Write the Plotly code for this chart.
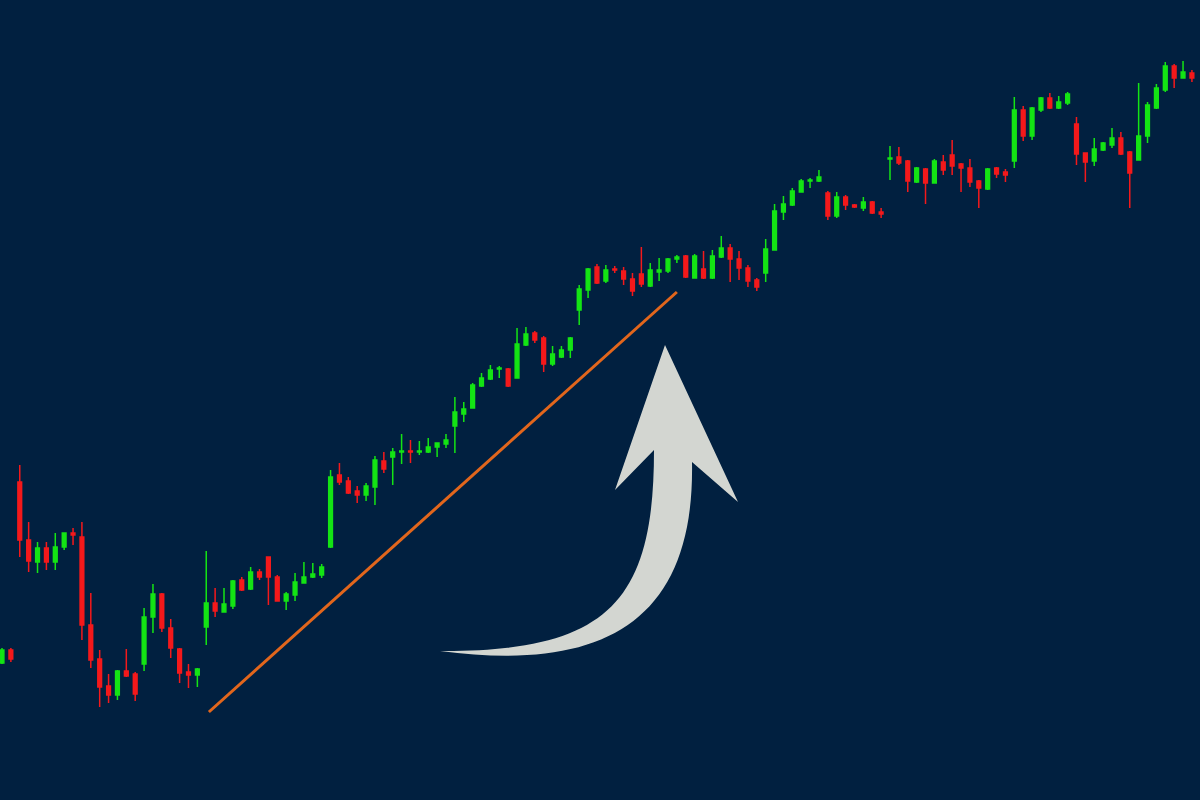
import plotly.graph_objects as go

# ---- data (price units) ----
opens = [137,150,318,260,238,252,238,253,267,263,
         175,141,114,105,129,126,136,183,206,172,
         151,128,125,173,197,188,194,220,211,228,
         243,223,199,205,217,223,225,253,325,319,
         309,305,313,339,343,348,349,348,348,353,
         356,374,386,392,414,421,431,431,422,455,
         467,462,436,443,450,490,510,533,519,531,
         529,521,526,514,528,529,541,544,522,531,
         522,543,552,541,532,520,527,550,588,595,
         608,619,619,607,584,603,595,592,598,588,
         641,643,639,618,631,617,638,645,636,632,
         619,611,632,628,639,690,664,690,702,692,
         697,676,647,639,650,655,662,648,640,664,
         692,710,734,722,727]
highs = [152,152,335,278,258,258,267,267,272,278,
         207,150,126,130,151,128,192,216,207,181,
         152,136,132,249,212,212,220,223,233,231,
         243,225,208,227,238,237,236,330,337,323,
         314,317,344,348,352,366,360,359,362,357,
         366,403,398,417,427,435,434,432,472,473,
         469,464,454,454,463,515,532,536,535,534,
         533,527,553,537,542,542,545,545,546,549,
         550,564,556,549,535,522,561,596,604,612,
         621,622,630,609,608,605,596,603,599,592,
         654,653,640,633,632,641,645,660,637,641,
         620,632,633,631,703,694,693,703,707,704,
         708,683,647,662,658,672,668,649,717,698,
         716,738,736,739,730]
lows = [136,138,243,228,227,230,230,250,255,160,
        132,93,97,100,123,99,129,167,168,142,
        117,112,113,155,183,188,191,209,210,220,
        195,199,190,199,217,222,222,252,315,306,
        297,299,295,327,315,336,337,345,347,343,
        352,347,378,392,413,420,422,413,422,454,
        457,428,434,442,442,475,502,516,517,527,
        515,504,513,513,519,527,537,522,522,521,
        521,542,518,520,513,509,518,550,580,594,
        608,612,618,580,582,590,592,589,586,582,
        620,635,608,617,596,617,625,625,608,613,
        592,610,622,618,632,659,660,688,691,691,
        695,635,618,634,649,652,645,592,640,657,
        691,708,712,722,718]
closes = [150,141,260,239,252,238,253,267,265,175,
          140,113,105,129,124,106,183,206,172,152,
          127,125,131,197,189,196,219,210,228,223,
          223,199,206,218,223,226,233,323,318,307,
          305,314,340,331,348,349,348,349,353,357,
          360,388,391,415,422,430,432,414,456,466,
          460,436,446,450,462,511,531,517,530,530,
          521,509,516,530,530,541,543,523,544,522,
          544,552,541,532,519,513,551,589,596,609,
          619,620,623,584,603,595,593,598,587,586,
          642,637,619,632,617,639,630,634,632,618,
          612,631,626,625,690,664,692,702,692,698,
          706,646,638,651,657,662,646,627,664,695,
          712,734,722,728,722]
bars = list(range(len(opens)))

# trendline endpoints (bar index, price)
trend_x = [23.3, 76.0]
trend_y = [88, 508]

BG = "#012040"
GREEN = "#14e414"
RED = "#f4191b"

# pixel -> data helpers for the decorative arrow
X0, DX = 2.0, 8.88
def px(x):
    return (x - X0) / DX
def py(y):
    return 800 - y
def P(p):
    return "%.3f,%.3f" % (px(p[0]), py(p[1]))

# arrow outline: outer curve (cubic), head, inner curve (cubic)
path = ("M " + P((440, 651)) +
        " C " + P((600, 672)) + " " + P((695, 625)) + " " + P((692, 462)) +
        " L " + P((738, 502)) +
        " L " + P((665, 345)) +
        " L " + P((615, 490)) +
        " L " + P((654, 450)) +
        " C " + P((654, 600)) + " " + P((610, 652)) + " " + P((440, 651)) +
        " Z")

fig = go.Figure(go.Candlestick(
    x=bars, open=opens, high=highs, low=lows, close=closes,
    increasing=dict(line=dict(color=GREEN, width=1.5), fillcolor=GREEN),
    decreasing=dict(line=dict(color=RED, width=1.5), fillcolor=RED),
    whiskerwidth=0, hoverinfo="skip",
))

fig.add_shape(type="line", x0=trend_x[0], y0=trend_y[0], x1=trend_x[1], y1=trend_y[1],
              line=dict(color="#e2661c", width=3), layer="above")
fig.add_shape(type="path", path=path, fillcolor="#d3d6d1", line=dict(width=0), layer="above")

fig.update_layout(
    width=1200, height=800,
    margin=dict(l=0, r=0, t=0, b=0),
    paper_bgcolor=BG, plot_bgcolor=BG,
    showlegend=False, boxgap=0.4,
    xaxis=dict(range=[px(0), px(1200)], visible=False, showgrid=False, zeroline=False,
               rangeslider=dict(visible=False), fixedrange=True),
    yaxis=dict(range=[0, 800], visible=False, showgrid=False, zeroline=False, fixedrange=True),
    hovermode=False,
)

fig.write_html("out.html", config={"displayModeBar": False},
               post_script="document.body.style.margin='0';document.body.style.overflow='hidden';")
